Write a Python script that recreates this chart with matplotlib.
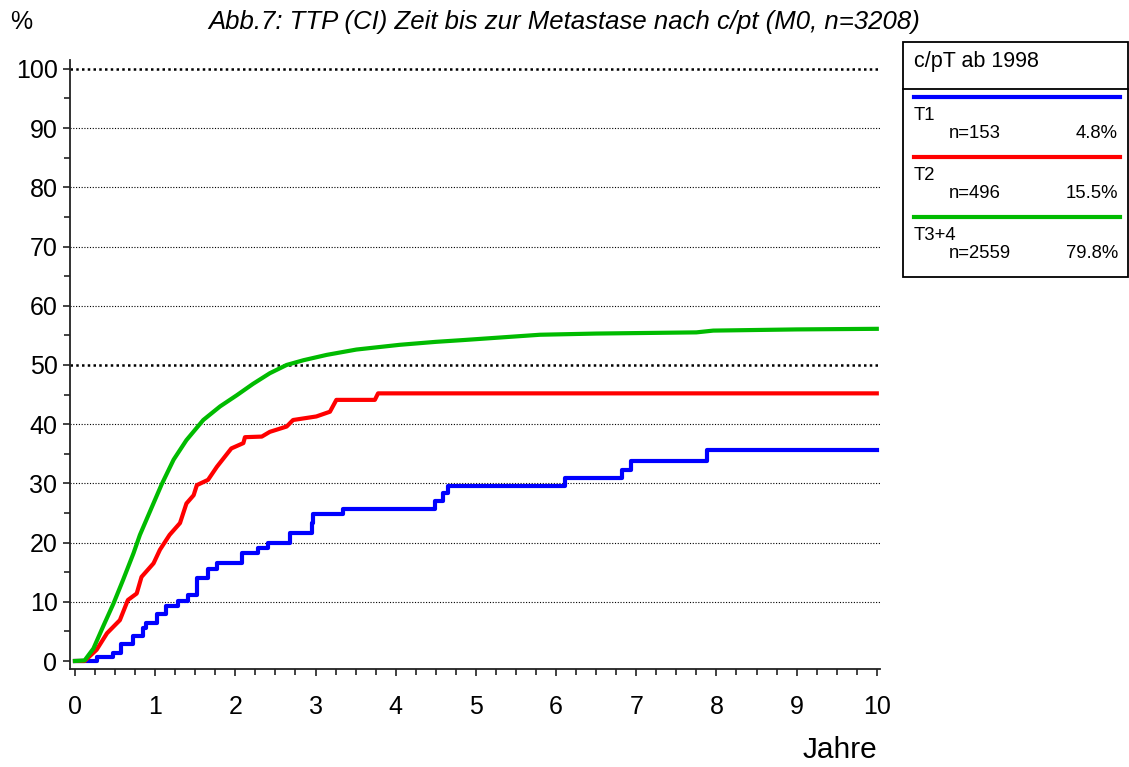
import numpy as np
import matplotlib.pyplot as plt
from matplotlib.lines import Line2D
from matplotlib.patches import Rectangle
from matplotlib.ticker import MultipleLocator

plt.rcParams['font.family'] = ['Liberation Sans', 'DejaVu Sans']

# T1 (Treppenfunktion)
t1_x = [0, 0.27, 0.47, 0.58, 0.72, 0.85, 0.88, 1.02, 1.14, 1.29, 1.41, 1.52, 1.66, 1.77,
        2.08, 2.28, 2.41, 2.68, 2.95, 2.97, 3.34, 4.49, 4.59, 4.65, 6.11, 6.82, 6.94, 7.88, 10]
t1_y = [0, 0.7, 1.4, 2.8, 4.2, 5.6, 6.5, 7.9, 9.3, 10.2, 11.1, 14.1, 15.5, 16.5,
        18.2, 19.1, 20.0, 21.7, 23.3, 24.8, 25.7, 27.0, 28.3, 29.6, 30.9, 32.3, 33.8, 35.6, 35.6]

# T2
t2_x = [0, 0.12, 0.27, 0.40, 0.48, 0.56, 0.66, 0.77, 0.83, 0.98, 1.06, 1.18, 1.31, 1.39,
        1.48, 1.52, 1.66, 1.77, 1.95, 2.10, 2.12, 2.33, 2.43, 2.64, 2.72, 3.01, 3.18, 3.26,
        3.74, 3.78, 10]
t2_y = [0, 0, 1.9, 4.7, 5.8, 6.9, 10.3, 11.4, 14.2, 16.5, 18.8, 21.3, 23.3, 26.6,
        28.0, 29.7, 30.6, 32.8, 35.9, 36.8, 37.8, 37.9, 38.7, 39.6, 40.7, 41.3, 42.1, 44.1,
        44.1, 45.2, 45.2]

# T3+4
t34_x = [0, 0.12, 0.23, 0.35, 0.48, 0.60, 0.73, 0.81, 0.94, 1.08, 1.23, 1.39, 1.60, 1.81,
         2.02, 2.22, 2.43, 2.64, 2.85, 3.14, 3.51, 4.05, 4.5, 4.84, 5.8, 6.5, 7.75, 7.96,
         9.0, 10]
t34_y = [0, 0.1, 2.1, 5.8, 9.7, 13.7, 18.2, 21.3, 25.4, 29.8, 34.0, 37.3, 40.7, 43.0,
         44.9, 46.8, 48.6, 50.0, 50.8, 51.7, 52.6, 53.4, 53.9, 54.2, 55.1, 55.3, 55.5, 55.8,
         56.0, 56.1]

leg_names = ["T1", "T2", "T3+4"]
leg_n = ["n=153", "n=496", "n=2559"]
leg_pct = ["4.8%", "15.5%", "79.8%"]
colors = ["#0000ff", "#ff0000", "#00bb00"]

W, H = 1129, 767
fig = plt.figure(figsize=(W / 100, H / 100), dpi=100)


def fx(px):
    return px / W


def fy(py):
    return 1 - py / H


ax = fig.add_axes([fx(70), fy(669), fx(880) - fx(70), fy(60) - fy(669)])
ax.set_xlim(-0.062, 10.04)
ax.set_ylim(-1.35, 101.5)

for yv in range(10, 101, 10):
    if yv in (50, 100):
        ax.axhline(yv, color='black', lw=1.8, ls=(0, (1, 1.3)), zorder=1)
    else:
        ax.axhline(yv, color='black', lw=0.8, ls=(0, (1, 1.5)), zorder=1)

ax.plot(t1_x, t1_y, color=colors[0], lw=3, drawstyle='steps-post', zorder=3)
ax.plot(t2_x, t2_y, color=colors[1], lw=3, zorder=3)
ax.plot(t34_x, t34_y, color=colors[2], lw=3, zorder=3)

for s in ['top', 'right']:
    ax.spines[s].set_visible(False)
for s in ['left', 'bottom']:
    ax.spines[s].set_color('#222222')
    ax.spines[s].set_linewidth(1.3)

ax.xaxis.set_major_locator(MultipleLocator(1))
ax.xaxis.set_minor_locator(MultipleLocator(0.25))
ax.yaxis.set_major_locator(MultipleLocator(10))
ax.yaxis.set_minor_locator(MultipleLocator(5))
ax.tick_params(which='both', direction='out', color='#222222', width=1.2)
ax.tick_params(which='major', length=5, labelsize=18)
ax.tick_params(which='minor', length=4)
ax.tick_params(axis='x', which='major', pad=14)
ax.tick_params(axis='y', which='major', pad=4)

fig.text(fx(877), fy(750), "Jahre", fontsize=21.5, ha='right', va='center')
fig.text(fx(10), fy(22), "%", fontsize=18, ha='left', va='center')
fig.text(fx(564), fy(22), "Abb.7: TTP (CI) Zeit bis zur Metastase nach c/pt (M0, n=3208)",
         fontsize=18.5, style='italic', ha='center', va='center')

# Legende
fig.add_artist(Rectangle((fx(903), fy(277)), fx(1128) - fx(903), fy(42) - fy(277),
                         transform=fig.transFigure, fill=False, ec='black', lw=1.3))
fig.add_artist(Line2D([fx(903), fx(1128)], [fy(89), fy(89)], color='black', lw=1.3))
fig.text(fx(914), fy(62), "c/pT ab 1998", fontsize=15.5, ha='left', va='center')
for i in range(len(leg_names)):
    y0 = 97 + i * 60
    fig.add_artist(Line2D([fx(914), fx(1120)], [fy(y0), fy(y0)], color=colors[i], lw=3))
    fig.text(fx(914), fy(y0 + 19), leg_names[i], fontsize=13.3, ha='left', va='center')
    fig.text(fx(949), fy(y0 + 36), leg_n[i], fontsize=13.3, ha='left', va='center')
    fig.text(fx(1118), fy(y0 + 36), leg_pct[i], fontsize=13.3, ha='right', va='center')

fig.savefig("out.png", dpi=100)
